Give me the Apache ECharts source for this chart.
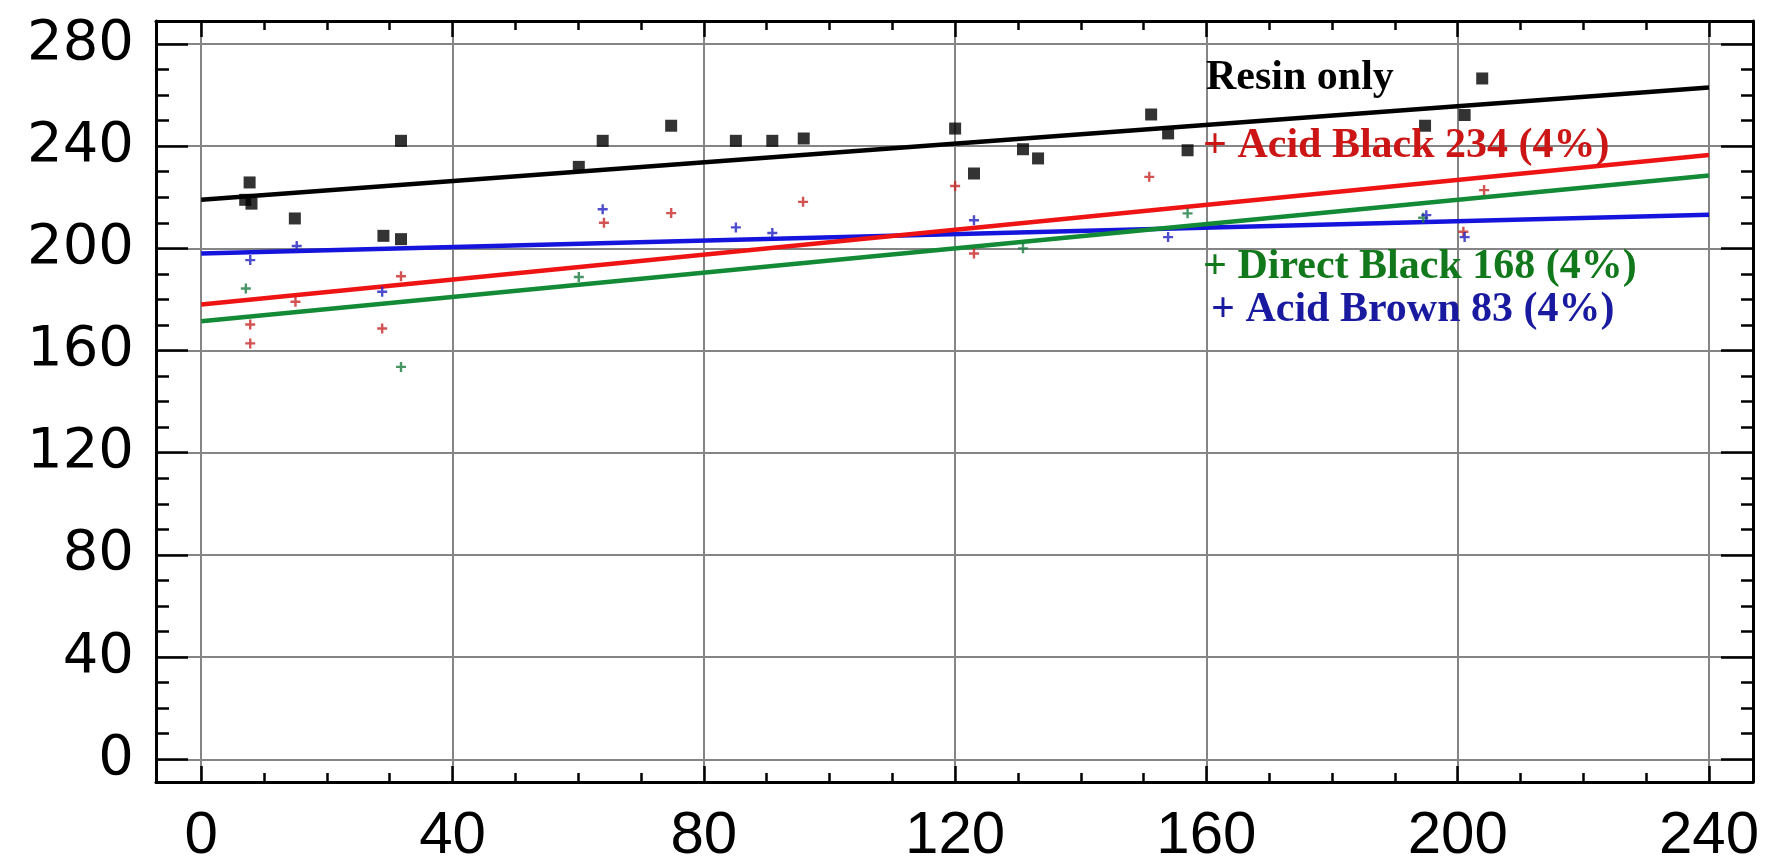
<!DOCTYPE html>
<html>
<head>
<meta charset="utf-8">
<title>Resin only vs dyes</title>
<script src="https://cdn.jsdelivr.net/npm/echarts@6/dist/echarts.min.js"></script>
<style>
  html, body { margin: 0; padding: 0; background: #fff; }
  #chart { width: 1766px; height: 868px; }
</style>
</head>
<body>
<div id="chart"></div>
<script>
// tick labels
const xTicks = [0, 40, 80, 120, 160, 200, 240]
const yTicks = [0, 40, 80, 120, 160, 200, 240, 280]

// Resin only (black squares)
const resinX = [7.7, 7.0, 8.0, 14.9, 29.0, 31.8, 31.8, 60.1, 63.9, 74.8, 85.1, 90.9, 95.9, 120.0, 123.0, 130.8, 133.2, 151.2, 153.9, 157.0, 194.8, 201.1, 203.9]
const resinY = [225.8, 219.0, 217.5, 211.7, 204.9, 203.6, 242.1, 231.9, 242.1, 248.0, 242.1, 242.1, 243.0, 246.9, 229.3, 238.8, 235.2, 252.4, 245.0, 238.4, 248.0, 252.2, 266.5]

// + Acid Black 234 (4%)
const acidBlackX = [7.8, 7.8, 15.0, 28.8, 31.8, 64.1, 74.8, 95.8, 120.0, 123.0, 150.9, 200.9, 204.2]
const acidBlackY = [170.2, 162.8, 179.1, 168.6, 189.1, 210.0, 213.8, 218.2, 224.4, 198.0, 228.0, 206.5, 222.8]

// + Direct Black 168 (4%)
const directBlackX = [7.1, 31.8, 60.1, 130.8, 157.0, 194.5]
const directBlackY = [184.3, 153.6, 188.8, 200.0, 213.7, 212.0]

// + Acid Brown 83 (4%)
const acidBrownX = [7.8, 15.2, 28.8, 63.9, 85.1, 90.9, 123.0, 153.9, 195.0, 201.1]
const acidBrownY = [195.4, 200.9, 183.0, 215.3, 208.2, 206.0, 211.0, 204.4, 213.0, 204.4]

// fitted lines, value at x = 0 and x = 240
const fitX = [0, 240]
const resinFit = [219, 263]
const acidBlackFit = [178, 236.5]
const directBlackFit = [171.5, 228.5]
const acidBrownFit = [198, 213.2]

const zip = (xs, ys) => xs.map((x, i) => [x, ys[i]])

// minor ticks every quarter of a major step, kept inside the frame
const minorTicks = (ticks, max) => {
  const step = (ticks[1] - ticks[0]) / 4
  const out = []
  ticks.forEach(t => {
    for (let k = 1; k < 4; k++) {
      if (t + k * step < max) out.push(t + k * step)
    }
  })
  return out
}

// the frame goes a little past 0..240 / 0..280
const xRange = [-7.2, 247]
const yRange = [-8.9, 289]

const tickStyle = { color: '#000', width: 2.5 }

function makeAxis(position, range, values, len, opts = {}) {
  return {
    type: 'value',
    position,
    min: range[0],
    max: range[1],
    axisLine: { show: !!opts.line, onZero: false, lineStyle: { color: '#000', width: 3 } },
    axisTick: { show: true, inside: true, length: len, customValues: values, lineStyle: tickStyle },
    axisLabel: opts.label ? Object.assign({ customValues: values }, opts.label) : { show: false },
    splitLine: opts.split
      ? { show: true, lineStyle: { color: '#858585', width: 2 } }
      : { show: false }
  }
}

const xLabel = { fontSize: 60, fontFamily: 'Liberation Sans', color: '#000', margin: 24 }
const yLabel = { fontSize: 56, fontFamily: 'DejaVu Sans', color: '#000', margin: 22 }

// small "+" marker
const plus = 'path://M3.8,0H6.2V3.8H10V6.2H6.2V10H3.8V6.2H0V3.8H3.8Z'

const pointSeries = (name, xs, ys, color, symbol, size) => ({
  name,
  type: 'scatter',
  data: zip(xs, ys),
  symbol,
  symbolSize: size,
  itemStyle: { color },
  z: 4
})

const fitSeries = (name, fit, color) => ({
  name: name + ' fit',
  type: 'line',
  data: zip(fitX, fit),
  symbol: 'none',
  lineStyle: { color, width: 4.5 },
  z: 3
})

const textEl = (text, x, y, color) => ({
  type: 'text',
  x, y,
  z: 10,
  style: {
    text,
    fill: color,
    font: 'bold 42px "Liberation Serif", "Times New Roman", serif',
    verticalAlign: 'middle'
  }
})

const chart = echarts.init(document.getElementById('chart'))

chart.setOption({
  animation: false,
  backgroundColor: '#fff',
  grid: { left: 156, right: 13, top: 21, bottom: 86, containLabel: false, outerBoundsMode: 'none' },
  xAxis: [
    makeAxis('bottom', xRange, xTicks, 16, { line: true, split: true, label: xLabel }),
    makeAxis('bottom', xRange, minorTicks(xTicks, xRange[1]), 9),
    makeAxis('top', xRange, xTicks, 16, { line: true }),
    makeAxis('top', xRange, minorTicks(xTicks, xRange[1]), 9)
  ],
  yAxis: [
    makeAxis('left', yRange, yTicks, 32, { line: true, split: true, label: yLabel }),
    makeAxis('left', yRange, minorTicks(yTicks, yRange[1]), 13),
    makeAxis('right', yRange, yTicks, 32, { line: true }),
    makeAxis('right', yRange, minorTicks(yTicks, yRange[1]), 12)
  ],
  series: [
    fitSeries('Resin only', resinFit, '#000000'),
    fitSeries('Acid Brown 83', acidBrownFit, '#1414dc'),
    fitSeries('Direct Black 168', directBlackFit, '#128a36'),
    fitSeries('Acid Black 234', acidBlackFit, '#ee1414'),
    pointSeries('Resin only', resinX, resinY, '#000000', 'rect', 12),
    pointSeries('Acid Black 234', acidBlackX, acidBlackY, '#c82828', plus, 10),
    pointSeries('Direct Black 168', directBlackX, directBlackY, '#1a7a40', plus, 10),
    pointSeries('Acid Brown 83', acidBrownX, acidBrownY, '#2020c0', plus, 10)
  ],
  graphic: [
    textEl('Resin only', 1206, 78, '#000000'),
    textEl('+ Acid Black 234 (4%)', 1203, 146, '#cc1616'),
    textEl('+ Direct Black 168 (4%)', 1203, 267, '#12781c'),
    textEl('+ Acid Brown 83 (4%)', 1211, 310, '#1a1aa0')
  ]
})

window.addEventListener('resize', () => chart.resize())
</script>
</body>
</html>
